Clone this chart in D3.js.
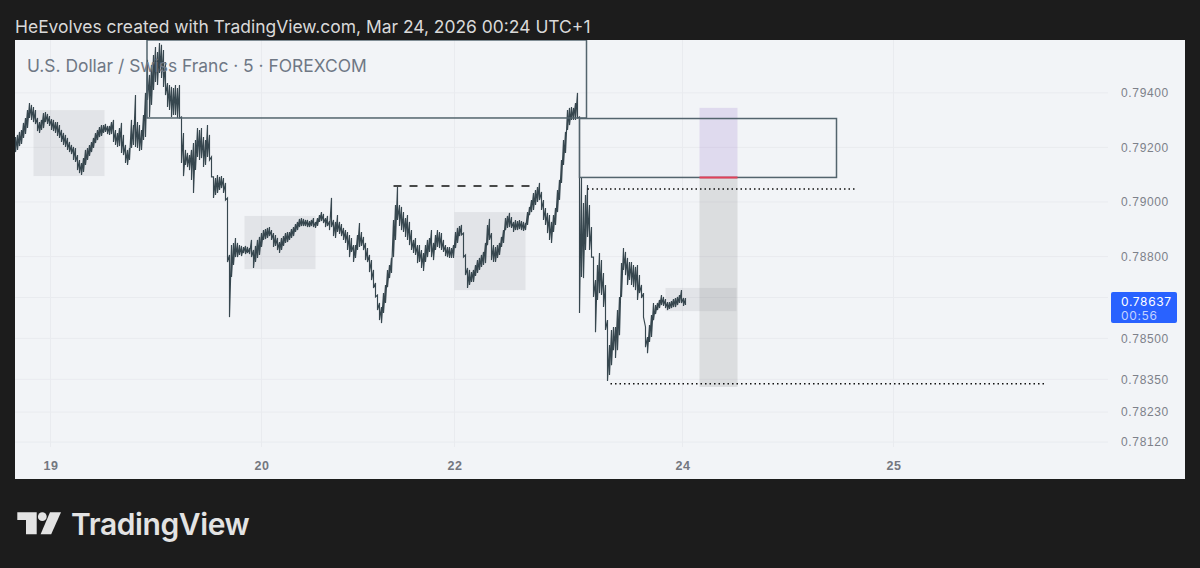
<!DOCTYPE html>
<html>
<head>
  <meta charset="utf-8">
  <style>
    html, body { margin: 0; padding: 0; background: #1c1c1c; overflow: hidden; }
    svg { display: block; font-family: Inter, "Noto Sans", sans-serif; }
    .grid line { stroke: #e9ebef; stroke-width: 1; }
    .axis text { fill: #7d818a; font-size: 12px; letter-spacing: 0.65px; }
    .axis .domain { display: none; }
    .time text { fill: #74777f; font-size: 12.5px; font-weight: 600; letter-spacing: 0.6px; }
  </style>
</head>
<body>
  <div id="chart"></div>
  <script src="https://d3js.org/d3.v7.min.js"></script>
  <script>
    // highs and lows of the bars, in 1e-5 of a franc
    var highs = [
      79238,79246,79257,79264,79290,79308,79337,79363,79356,79348,
      79337,79308,79293,79301,79326,79330,79323,79315,79304,79301,
      79293,79293,79282,79264,79253,79246,79235,79220,79209,79202,
      79198,79172,79154,79143,79161,79191,79198,79209,79220,79235,
      79253,79264,79275,79282,79282,79286,79279,79279,79293,79301,
      79264,79253,79271,79290,79246,79209,79191,79198,79301,79282,
      79392,79293,79282,79264,79319,79400,79521,79466,79502,79539,
      79568,79550,79583,79576,79557,79513,79436,79429,79422,79418,
      79429,79418,79429,79312,79253,79191,79180,79172,79191,79216,
      79227,79271,79264,79271,79238,79227,79282,79246,79165,79092,
      79088,79099,79092,79095,79088,79070,79015,78806,78842,78850,
      78868,78850,78842,78839,78835,78839,78835,78831,78861,78824,
      78839,78861,78872,78886,78897,78901,78905,78908,78897,78886,
      78879,78868,78853,78868,78875,78886,78890,78890,78901,78908,
      78919,78927,78938,78941,78938,78934,78934,78930,78934,78941,
      78927,78941,78952,78963,78956,78941,78949,78930,79015,78934,
      78927,78952,78927,78919,78905,78897,78890,78879,78868,78842,
      78842,78879,78923,78890,78872,78850,78831,78806,78787,78751,
      78703,78659,78630,78615,78666,78696,78751,78769,78795,78934,
      78989,79055,78989,78982,78963,78941,78952,78927,78897,78861,
      78868,78842,78842,78824,78813,78842,78861,78868,78897,78850,
      78879,78897,78890,78886,78861,78842,78835,78835,78831,78842,
      78890,78905,78912,78916,78886,78806,78758,78751,78743,78751,
      78769,78787,78795,78806,78817,78850,78916,78938,78886,78842,
      78835,78842,78850,78872,78897,78941,78949,78960,78945,78927,
      78934,78930,78934,78930,78927,78923,78963,78982,79007,79033,
      79044,79055,79070,79037,79007,78978,78960,78952,78927,78952,
      78978,79044,79081,79154,79227,79257,79337,79345,79348,79345,
      79363,79400,79312,79088,78996,79026,79062,78989,78908,78798,
      78714,78769,78813,78787,78740,78696,78567,78476,78531,78542,
      78542,78604,78652,78776,78831,78817,78795,78780,78780,78769,
      78762,78769,78732,78696,78666,78542,78505,78549,78586,78630,
      78622,78630,78641,78659,78652,78644,78633,78633,78637,78644,
      78648,78652,78659,78677,78648,78648
    ];
    var lows = [
      79183,79191,79205,79213,79235,79249,79271,79308,79301,79293,
      79286,79260,79253,79264,79271,79293,79286,79279,79264,79260,
      79253,79242,79235,79220,79209,79202,79191,79183,79176,79154,
      79147,79117,79106,79099,79110,79136,79154,79169,79183,79198,
      79216,79227,79238,79242,79253,79257,79249,79246,79249,79220,
      79209,79202,79205,79180,79172,79143,79136,79154,79198,79209,
      79202,79198,79187,79191,79227,79238,79374,79312,79356,79411,
      79440,79429,79473,79455,79422,79392,79348,79337,79312,79319,
      79319,79308,79308,79143,79095,79136,79128,79117,79081,79033,
      79117,79165,79154,79161,79128,79136,79165,79154,79092,79015,
      79026,79033,79044,79051,79033,79007,78780,78578,78725,78769,
      78798,78798,78806,78802,78813,78809,78813,78809,78798,78758,
      78780,78795,78806,78835,78861,78864,78868,78875,78861,78835,
      78839,78824,78813,78824,78839,78850,78853,78861,78868,78875,
      78890,78897,78908,78912,78912,78912,78908,78908,78912,78908,
      78905,78912,78927,78930,78923,78908,78912,78897,78908,78875,
      78868,78890,78883,78875,78861,78850,78824,78798,78817,78780,
      78795,78824,78835,78839,78824,78787,78780,78743,78714,78685,
      78652,78604,78567,78556,78593,78630,78688,78721,78740,78798,
      78861,78934,78912,78897,78890,78872,78861,78842,78824,78813,
      78806,78776,78780,78758,78747,78780,78798,78817,78798,78787,
      78824,78835,78831,78824,78817,78802,78798,78795,78795,78795,
      78831,78850,78875,78879,78798,78732,78685,78696,78707,78707,
      78729,78740,78751,78762,78769,78776,78842,78861,78787,78780,
      78780,78795,78806,78835,78850,78897,78905,78908,78905,78890,
      78897,78897,78901,78897,78894,78897,78916,78952,78963,78971,
      78989,79000,79007,78971,78934,78916,78886,78861,78850,78890,
      78916,78963,79007,79070,79136,79180,79264,79282,79301,79301,
      79301,79308,78593,78725,78721,78824,78872,78824,78798,78652,
      78523,78641,78666,78659,78615,78531,78344,78366,78402,78457,
      78428,78457,78512,78652,78751,78732,78696,78714,78696,78688,
      78677,78641,78666,78648,78578,78468,78446,78487,78505,78567,
      78589,78604,78611,78622,78619,78611,78604,78608,78611,78615,
      78615,78622,78630,78630,78619,78622
    ];

    var gridPrices = [0.7812, 0.7823, 0.7835, 0.785, 0.7865, 0.788, 0.79, 0.792, 0.794];
    var priceTicks = [0.7812, 0.7823, 0.7835, 0.785, 0.788, 0.79, 0.792, 0.794];  // 0.7865 sits under the tag
    var dayLabels = ["19", "20", "22", "24", "25"];
    var dayBars = [17.5, 123, 219.5, 333.5, 439];   // bar index where each day starts
    var lastPrice = 0.78637;
    var countdown = "00:56";

    // drawings on the chart, bar index + price
    var sessionZones = [
      {from: 9, to: 44.5, top: 0.79337, bottom: 0.79095},
      {from: 114.5, to: 150, top: 0.78949, bottom: 0.78754},
      {from: 219.5, to: 255, top: 0.78963, bottom: 0.78677},
      {from: 325, to: 360.5, top: 0.78685, bottom: 0.78600}
    ];
    var boxes = [
      {from: 65.75, to: 285.5, top: 0.79594, bottom: 0.79308},
      {from: 282, to: 410.5, top: 0.79306, bottom: 0.79090}
    ];
    var hLines = [
      {from: 189, to: 257.5, price: 0.79059, dash: "8,8"},
      {from: 286, to: 420.5, price: 0.79048, dash: "1.5,3"},
      {from: 297.5, to: 514.5, price: 0.78334, dash: "1.5,3"}
    ];
    var riskColumn = {from: 342, to: 361, top: 0.79345, entry: 0.79090, bottom: 0.78322};

    var W = 1200, H = 568;
    var panel = {left: 15, top: 40, right: 1185, bottom: 479};

    var svg = d3.select("#chart").append("svg").attr("width", W).attr("height", H);

    svg.append("defs").append("clipPath").attr("id", "plot")
        .append("rect").attr("x", panel.left).attr("y", panel.top)
        .attr("width", 1095).attr("height", 408);
    svg.select("defs").append("clipPath").attr("id", "scale")
        .append("rect").attr("x", 1105).attr("y", panel.top)
        .attr("width", 80).attr("height", 408);

    svg.append("text").attr("x", 15).attr("y", 33)
        .attr("fill", "#d9d9d9").attr("font-size", 17.45)
        .text("HeEvolves created with TradingView.com, Mar 24, 2026 00:24 UTC+1");

    svg.append("rect")
        .attr("x", panel.left).attr("y", panel.top)
        .attr("width", panel.right - panel.left).attr("height", panel.bottom - panel.top)
        .attr("fill", "#f2f4f7");

    // 2 px a bar
    var x = d3.scaleLinear().domain([0, highs.length - 1]).range([15.5, 685.5]);
    var y = d3.scaleLinear().domain([0.79, 0.785]).range([202, 338.4]);

    // grid
    var grid = svg.append("g").attr("class", "grid");
    grid.selectAll(".h").data(gridPrices).enter().append("line")
        .attr("x1", panel.left).attr("x2", 1108)
        .attr("y1", d => y(d)).attr("y2", d => y(d));
    grid.selectAll(".v").data(dayBars).enter().append("line")
        .attr("x1", d => x(d)).attr("x2", d => x(d))
        .attr("y1", panel.top).attr("y2", 447);

    var plot = svg.append("g").attr("clip-path", "url(#plot)");

    plot.selectAll(".zone").data(sessionZones).enter().append("rect")
        .attr("x", d => x(d.from)).attr("width", d => x(d.to) - x(d.from))
        .attr("y", d => y(d.top)).attr("height", d => y(d.bottom) - y(d.top))
        .attr("fill", "#787b86").attr("opacity", 0.13);

    // risk/reward column
    plot.append("rect")
        .attr("x", x(riskColumn.from)).attr("width", x(riskColumn.to) - x(riskColumn.from))
        .attr("y", y(riskColumn.top)).attr("height", y(riskColumn.entry) - y(riskColumn.top))
        .attr("fill", "#9575cd").attr("opacity", 0.2);
    plot.append("rect")
        .attr("x", x(riskColumn.from)).attr("width", x(riskColumn.to) - x(riskColumn.from))
        .attr("y", y(riskColumn.entry)).attr("height", y(riskColumn.bottom) - y(riskColumn.entry))
        .attr("fill", "#777777").attr("opacity", 0.18);

    // bars, zigzag from each bar's low up to the next high ties them together
    var zigzag = "";
    highs.forEach(function (h, i) {
      zigzag += (i ? "L" : "M") + x(i) + "," + y(h / 100000) + "L" + x(i) + "," + y(lows[i] / 100000);
    });
    plot.append("path").attr("d", zigzag).attr("fill", "none")
        .attr("stroke", "#37474f").attr("stroke-width", 1.15);

    // drawn boxes and levels
    plot.selectAll(".box").data(boxes).enter().append("rect")
        .attr("x", d => x(d.from)).attr("width", d => x(d.to) - x(d.from))
        .attr("y", d => y(d.top)).attr("height", d => y(d.bottom) - y(d.top))
        .attr("fill", "none").attr("stroke", "#53646d").attr("stroke-width", 1.5);

    plot.append("line")
        .attr("x1", x(riskColumn.from)).attr("x2", x(riskColumn.to))
        .attr("y1", y(riskColumn.entry)).attr("y2", y(riskColumn.entry))
        .attr("stroke", "#e2405a").attr("stroke-width", 2);

    plot.selectAll(".level").data(hLines).enter().append("line")
        .attr("x1", d => x(d.from)).attr("x2", d => x(d.to))
        .attr("y1", d => y(d.price)).attr("y2", d => y(d.price))
        .attr("stroke", "#111").attr("stroke-width", 1.5)
        .attr("stroke-dasharray", d => d.dash);

    svg.append("text").attr("x", 27).attr("y", 72)
        .attr("fill", "#6f7885").attr("font-size", 17.4)
        .text("U.S. Dollar / Swiss Franc \u00b7 5 \u00b7 FOREXCOM");

    // price axis
    svg.append("g").attr("clip-path", "url(#scale)")
        .append("g").attr("class", "axis")
        .attr("transform", "translate(1121,0)")
        .call(d3.axisRight(y).tickValues(priceTicks).tickSize(0).tickPadding(0)
            .tickFormat(d3.format(".5f")));

    // time axis
    svg.append("g").attr("class", "axis time")
        .attr("transform", "translate(0,461)")
        .call(d3.axisBottom(x).tickValues(dayBars).tickSize(0).tickPadding(0)
            .tickFormat((d, i) => dayLabels[i]));

    // last price tag
    var tag = svg.append("g");
    tag.append("rect").attr("x", 1111).attr("y", y(lastPrice) - 9)
        .attr("width", 66).attr("height", 31).attr("rx", 2).attr("fill", "#2962ff");
    tag.append("text").attr("x", 1121).attr("y", y(lastPrice) + 4.5)
        .attr("fill", "#fff").attr("font-size", 12).attr("letter-spacing", 0.65)
        .text(d3.format(".5f")(lastPrice));
    tag.append("text").attr("x", 1121).attr("y", y(lastPrice) + 18.5)
        .attr("fill", "#c3d3ff").attr("font-size", 12).attr("letter-spacing", 0.65)
        .text(countdown);

    // logo
    var logo = svg.append("g").attr("fill", "#e3e3e3");
    logo.append("path").attr("d", "M17.3 512.3H36.7V534.3H26V520H17.3Z");
    logo.append("circle").attr("cx", 42.3).attr("cy", 516.7).attr("r", 4.4);
    logo.append("path").attr("d", "M50 512.3H61L51.2 534.3H40.6Z");
    logo.append("text").attr("x", 71).attr("y", 535)
        .attr("font-size", 30).attr("font-weight", 600).attr("letter-spacing", -0.4)
        .text("TradingView");
  </script>
</body>
</html>
